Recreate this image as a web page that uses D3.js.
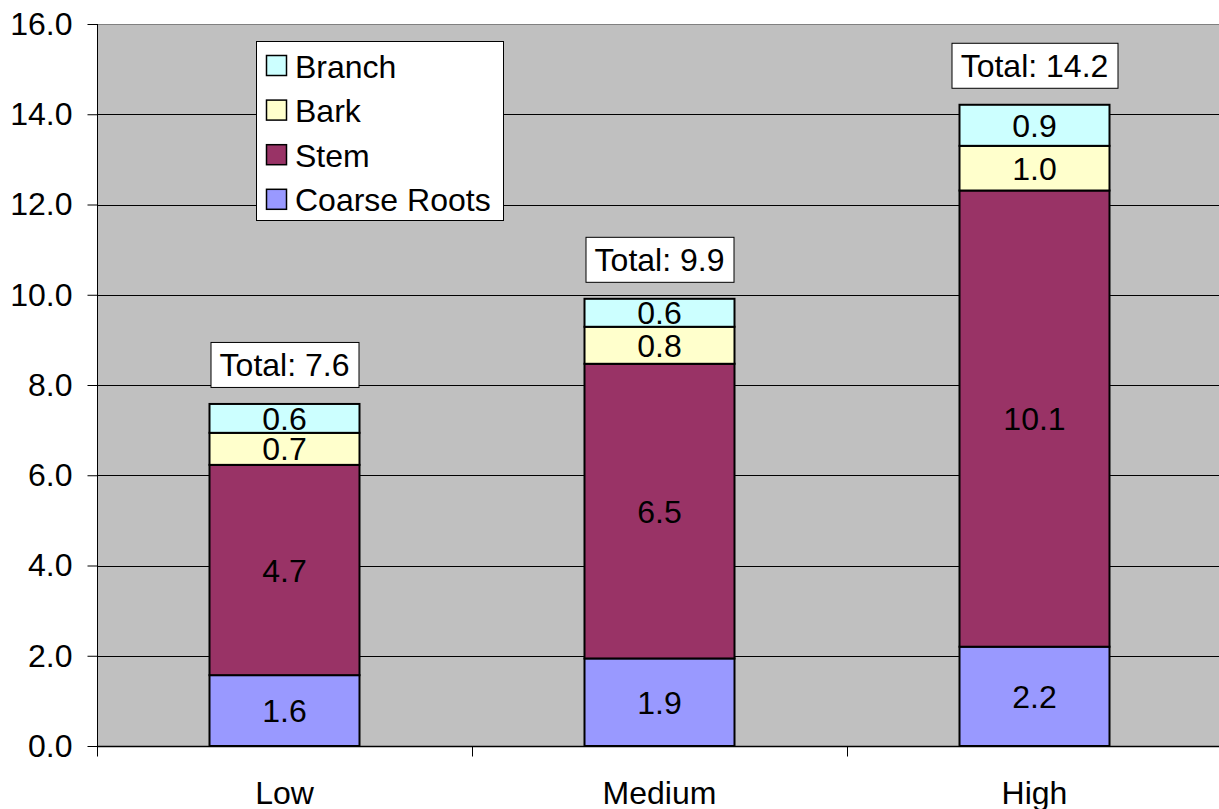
<!DOCTYPE html>
<html>
<head>
<meta charset="utf-8">
<script src="https://cdn.jsdelivr.net/npm/d3@7"></script>
<style>
  html, body { margin: 0; padding: 0; background: #fff; }
  svg { display: block; font-family: "Liberation Sans", Arial, sans-serif; }
</style>
</head>
<body>
<svg id="chart" width="1219" height="809"></svg>
<script>
// Biomass by component for each treatment level
const categories = ["Low", "Medium", "High"];
const seriesNames = ["Coarse Roots", "Stem", "Bark", "Branch"];
const coarseRoots = [1.57, 1.94, 2.20];
const stem = [4.66, 6.53, 10.11];
const bark = [0.71, 0.82, 0.99];
const branch = [0.64, 0.62, 0.91];
const yTicks = [0, 2, 4, 6, 8, 10, 12, 14, 16];
const colors = ["#9999FF", "#993366", "#FFFFCC", "#CCFFFF"];

const rows = categories.map((c, i) => ({
  category: c,
  "Coarse Roots": coarseRoots[i],
  "Stem": stem[i],
  "Bark": bark[i],
  "Branch": branch[i]
}));

const FS = 32;
const svg = d3.select("#chart");
const margin = { left: 97, top: 24, right: -3, bottom: 63 };
const W = 1219, H = 809;
const plotW = W - margin.left - margin.right;
const plotH = H - margin.top - margin.bottom;

const x = d3.scaleBand().domain(categories).range([margin.left, margin.left + plotW]).paddingInner(0.6).paddingOuter(0.3);
const xOuter = d3.scaleBand().domain(categories).range([margin.left, margin.left + plotW]);
const y = d3.scaleLinear().domain([0, 16]).range([margin.top + plotH, margin.top]);

const fmt = d3.format(".1f");

// plot area background
svg.append("rect")
  .attr("x", margin.left).attr("y", margin.top)
  .attr("width", plotW).attr("height", plotH)
  .attr("fill", "#C0C0C0");
svg.append("line")
  .attr("x1", margin.left).attr("x2", margin.left + plotW)
  .attr("y1", margin.top + 0.5).attr("y2", margin.top + 0.5)
  .attr("stroke", "#808080").attr("stroke-width", 1);

// gridlines
svg.append("g").selectAll("line")
  .data(yTicks.filter(t => t > 0 && t < 16))
  .join("line")
  .attr("x1", margin.left).attr("x2", margin.left + plotW)
  .attr("y1", d => Math.round(y(d)) + 0.5).attr("y2", d => Math.round(y(d)) + 0.5)
  .attr("stroke", "#000").attr("stroke-width", 1);

// y axis
const yAxis = d3.axisLeft(y).tickValues(yTicks).tickFormat(fmt).tickSize(10).tickPadding(15);
const gy = svg.append("g").attr("transform", `translate(${margin.left + 0.5},0)`).call(yAxis);
gy.select(".domain").attr("stroke", "#000").attr("d", `M-0,${margin.top}V${margin.top + plotH + 10}`);
gy.selectAll(".tick line").attr("stroke", "#000");
gy.selectAll(".tick text").attr("font-size", FS).attr("fill", "#000")
  .attr("font-family", "'Liberation Sans', Arial, sans-serif");

// x axis
const gx = svg.append("g").attr("transform", `translate(0,${margin.top + plotH + 0.5})`);
gx.append("line").attr("x1", margin.left).attr("x2", margin.left + plotW)
  .attr("stroke", "#000").attr("stroke-width", 1.5);
gx.selectAll("line.tick")
  .data(categories)
  .join("line").attr("class", "tick")
  .attr("x1", d => Math.round(xOuter(d)) + 0.5).attr("x2", d => Math.round(xOuter(d)) + 0.5)
  .attr("y1", 0).attr("y2", 10).attr("stroke", "#000");
gx.selectAll("text")
  .data(categories)
  .join("text")
  .attr("x", d => x(d) + x.bandwidth() / 2)
  .attr("y", 57)
  .attr("text-anchor", "middle")
  .attr("font-size", FS).attr("fill", "#000")
  .text(d => d);

// stacked bars
const stacked = d3.stack().keys(seriesNames)(rows);
const layers = svg.append("g").selectAll("g")
  .data(stacked)
  .join("g")
  .attr("fill", (d, i) => colors[i]);

layers.selectAll("rect")
  .data(d => d)
  .join("rect")
  .attr("x", d => x(d.data.category))
  .attr("width", x.bandwidth())
  .attr("y", d => y(d[1]))
  .attr("height", d => y(d[0]) - y(d[1]))
  .attr("stroke", "#000").attr("stroke-width", 2);

// segment value labels
layers.selectAll("text")
  .data((d) => d.map(v => ({ v, key: d.key })))
  .join("text")
  .attr("x", d => x(d.v.data.category) + x.bandwidth() / 2)
  .attr("y", d => (y(d.v[0]) + y(d.v[1])) / 2)
  .attr("dy", "0.36em")
  .attr("text-anchor", "middle")
  .attr("font-size", FS).attr("fill", "#000")
  .text(d => fmt(d.v.data[d.key]));

// total labels
const totals = rows.map(r => ({ category: r.category, total: d3.sum(seriesNames, k => r[k]) }));
const tg = svg.append("g").selectAll("g").data(totals).join("g")
  .attr("transform", d => `translate(${x(d.category) + x.bandwidth() / 2},${y(d.total) - 39})`);
tg.append("text")
  .attr("text-anchor", "middle").attr("dy", "0.36em")
  .attr("font-size", FS).attr("fill", "#000")
  .text(d => "Total: " + fmt(d.total));
tg.each(function () {
  const g = d3.select(this);
  const bb = g.select("text").node().getBBox();
  g.insert("rect", "text")
    .attr("x", Math.round(bb.x - 9) + 0.5).attr("y", -22.5)
    .attr("width", Math.round(bb.width + 18)).attr("height", 45)
    .attr("fill", "#fff").attr("stroke", "#000").attr("stroke-width", 1);
});

// legend
const legendOrder = ["Branch", "Bark", "Stem", "Coarse Roots"];
const lg = svg.append("g").attr("transform", "translate(256,41)");
lg.append("rect").attr("x", 0.5).attr("y", 0.5).attr("width", 247).attr("height", 179)
  .attr("fill", "#fff").attr("stroke", "#000").attr("stroke-width", 1);
const items = lg.selectAll("g.item").data(legendOrder).join("g").attr("class", "item")
  .attr("transform", (d, i) => `translate(0,${25 + i * 44.6})`);
items.append("rect")
  .attr("x", 10.5).attr("y", -10.5).attr("width", 20).attr("height", 20)
  .attr("fill", d => colors[seriesNames.indexOf(d)])
  .attr("stroke", "#000").attr("stroke-width", 1.5);
items.append("text")
  .attr("x", 39).attr("dy", "0.36em")
  .attr("font-size", FS).attr("fill", "#000")
  .text(d => d);
</script>
</body>
</html>
